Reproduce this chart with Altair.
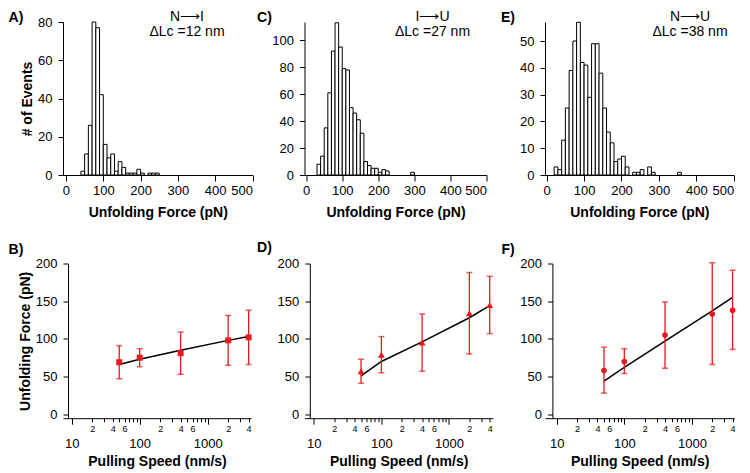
import altair as alt
import pandas as pd

RED = "#e41a1c"
FONT = "Liberation Sans"

# ---------------- histogram data (bin start, pN; 10 pN bins) ----------------
a_bin = [40, 50, 60, 70, 80, 90, 100, 110, 120, 130, 140, 150, 160, 170, 180, 190, 200, 220, 230, 240]
a_cnt = [2, 11, 26, 80, 77, 42, 16, 9, 11, 2, 7, 4, 1, 1, 1, 3, 1, 1, 1, 1]
c_bin = [30, 40, 50, 60, 70, 80, 90, 100, 110, 120, 130, 140, 150, 160, 170, 180, 190, 200, 210, 220, 290]
c_cnt = [8, 14, 35, 61, 92, 113, 95, 79, 78, 50, 46, 41, 31, 10, 7, 5, 5, 2, 4, 3, 2]
e_bin = [20, 30, 40, 50, 60, 70, 80, 90, 100, 110, 120, 130, 140, 150, 160, 170, 180, 190, 200, 210,
         230, 240, 250, 270, 280, 350]
e_cnt = [3, 2, 13, 25, 39, 50, 57, 42, 41, 29, 49, 49, 38, 25, 16, 12, 5, 6, 7, 3, 1, 1, 2, 3, 1, 1]
bin_width = 10

# ---------------- pulling-speed data ----------------
speeds = [50, 100, 400, 2000, 4000]
b_force = [69, 75, 81, 98, 102]
b_lo = [47, 63, 53, 65, 66]
b_hi = [91, 87, 109, 131, 138]
b_fit = [66, 73, 85, 98, 103]

d_force = [57, 79, 95, 134, 145]
d_lo = [41, 55, 57, 80, 107]
d_hi = [73, 103, 133, 188, 183]
d_fit = [51, 70, 96, 128, 144]

f_force = [58, 70, 105, 133, 138]
f_lo = [28, 54, 61, 66, 86]
f_hi = [89, 87, 149, 201, 191]
f_fit = [44, 62, 97, 137, 155]

log_ticks = [10, 20, 30, 40, 50, 60, 70, 80, 90, 100, 200, 300, 400, 500, 600, 700, 800, 900,
             1000, 2000, 3000, 4000]
MAJOR = "indexof([10,100,1000], datum.value) >= 0"


def txt(s, x, y, size=14, weight="normal"):
    return alt.Chart(pd.DataFrame({"t": [s]})).mark_text(
        font=FONT, fontSize=size, fontWeight=weight, color="black",
        align="center", baseline="middle"
    ).encode(text="t:N", x=alt.value(x), y=alt.value(y))


def hist(bins, cnts, xdom, ytop, yticks, width, label, lab_x, arrow, dlc, ann_x, ytitle=None):
    df = pd.DataFrame({"start": bins, "count": cnts})
    df["end"] = df["start"] + bin_width
    yax = dict(values=yticks, tickSize=5, labelPadding=6)
    if ytitle:
        yax.update(title=ytitle, titlePadding=3)
    else:
        yax.update(title="")
    bars = alt.Chart(df).mark_bar(fill="white", stroke="black", strokeWidth=1).encode(
        x=alt.X("start:Q", scale=alt.Scale(domain=xdom, nice=False, zero=False),
                axis=alt.Axis(values=[0, 100, 200, 300, 400, 500], title="Unfolding Force (pN)",
                              tickSize=6, labelPadding=3, titlePadding=8)),
        x2="end:Q",
        y=alt.Y("count:Q", scale=alt.Scale(domain=[0, ytop], nice=False), axis=alt.Axis(**yax)),
        y2=alt.datum(0),
    )
    return alt.layer(
        bars,
        txt(label, lab_x, -4, 14, "bold"),
        txt(arrow, ann_x, -5, 14),
        txt(dlc, ann_x, 10, 14),
    ).properties(width=width, height=153)


def speed(force, lo, hi, fit, shape, msize, label, lab_x, lab_y, xdom, width, yoffset, ytitle=None):
    df = pd.DataFrame({"v": speeds, "f": force, "lo": lo, "hi": hi, "fit": fit})
    xs = alt.Scale(type="log", domain=xdom, nice=False)
    ys = alt.Scale(domain=[-5.3, 200], nice=False, zero=False)
    xax = alt.Axis(
        values=log_ticks, title="Pulling Speed (nm/s)", titlePadding=4,
        tickSize={"condition": {"test": MAJOR, "value": 6}, "value": 3.5},
        labelPadding=3, labelOverlap=False, labelLineHeight=10,
        labelFontSize={"condition": {"test": MAJOR, "value": 13}, "value": 9},
        labelExpr=("indexof([10,100,1000], datum.value) >= 0 ? ['', toString(datum.value)] : "
                   "(indexof([20,40,60,200,400,600,2000,4000], datum.value) >= 0 ? "
                   "substring(toString(datum.value), 0, 1) : '')"),
    )
    yax = dict(values=[0, 50, 100, 150, 200], tickSize=5, labelPadding=6, offset=yoffset)
    if ytitle:
        yax.update(title=ytitle, titlePadding=3)
    else:
        yax.update(title="")
    yax = alt.Axis(**yax)
    X = alt.X("v:Q", scale=xs, axis=xax)
    base = alt.Chart(df)
    line = base.mark_line(color="black", strokeWidth=1.5).encode(
        x=X, y=alt.Y("fit:Q", scale=ys, axis=yax))
    rule = base.mark_rule(color=RED, strokeWidth=1.3).encode(
        x=X, y=alt.Y("lo:Q", scale=ys, axis=yax), y2="hi:Q")
    cap_lo = base.mark_tick(color=RED, orient="horizontal", size=6, thickness=1.5).encode(
        x=X, y=alt.Y("lo:Q", scale=ys, axis=yax))
    cap_hi = base.mark_tick(color=RED, orient="horizontal", size=6, thickness=1.5).encode(
        x=X, y=alt.Y("hi:Q", scale=ys, axis=yax))
    pts = base.mark_point(shape=shape, filled=True, color=RED, opacity=1, size=msize).encode(
        x=X, y=alt.Y("f:Q", scale=ys, axis=yax))
    return alt.layer(line, rule, cap_lo, cap_hi, pts, txt(label, lab_x, lab_y, 14, "bold")).properties(
        width=width, height=154.7)


A = hist(a_bin, a_cnt, [-8, 500], 80, [0, 20, 40, 60, 80], 189.5, "A)", -47,
         "N\u27f6I", "\u0394Lc =12 nm", 124, ytitle="# of Events")
C = hist(c_bin, c_cnt, [-4.7, 500], 113.6, [0, 20, 40, 60, 80, 100], 182, "C)", -40,
         "I\u27f6U", "\u0394Lc =27 nm", 128)
E = hist(e_bin, e_cnt, [-4.5, 500], 57.1, [0, 10, 20, 30, 40, 50], 188.7, "E)", -37,
         "N\u27f6U", "\u0394Lc =38 nm", 145)

B = speed(b_force, b_lo, b_hi, b_fit, "square", 36, "B)", -47, -14, [7.45, 4335], 188, -5,
          ytitle="Unfolding Force (pN)")
D = speed(d_force, d_lo, d_hi, d_fit, "triangle-up", 48, "D)", -40, -16, [7.29, 4446], 188.3, -5.3)
F = speed(f_force, f_lo, f_hi, f_fit, "circle", 32, "F)", -37, -14, [6.71, 4254], 189.4, -7.4)

chart = alt.concat(
    A, C, E, B, D, F, columns=3, bounds="flush",
    spacing={"row": 88.5, "column": 51.5},
).properties(
    padding={"left": 0, "top": 2, "right": 0, "bottom": 0}
).configure_axis(
    domainColor="black", tickColor="black", labelColor="black", titleColor="black",
    labelFont=FONT, titleFont=FONT, labelFontSize=13, titleFontSize=14,
    titleFontWeight="bold", grid=False, domainWidth=1, tickWidth=1,
).configure_view(strokeWidth=0)

chart.save("out.html", embed_options={"renderer": "svg", "actions": False})
